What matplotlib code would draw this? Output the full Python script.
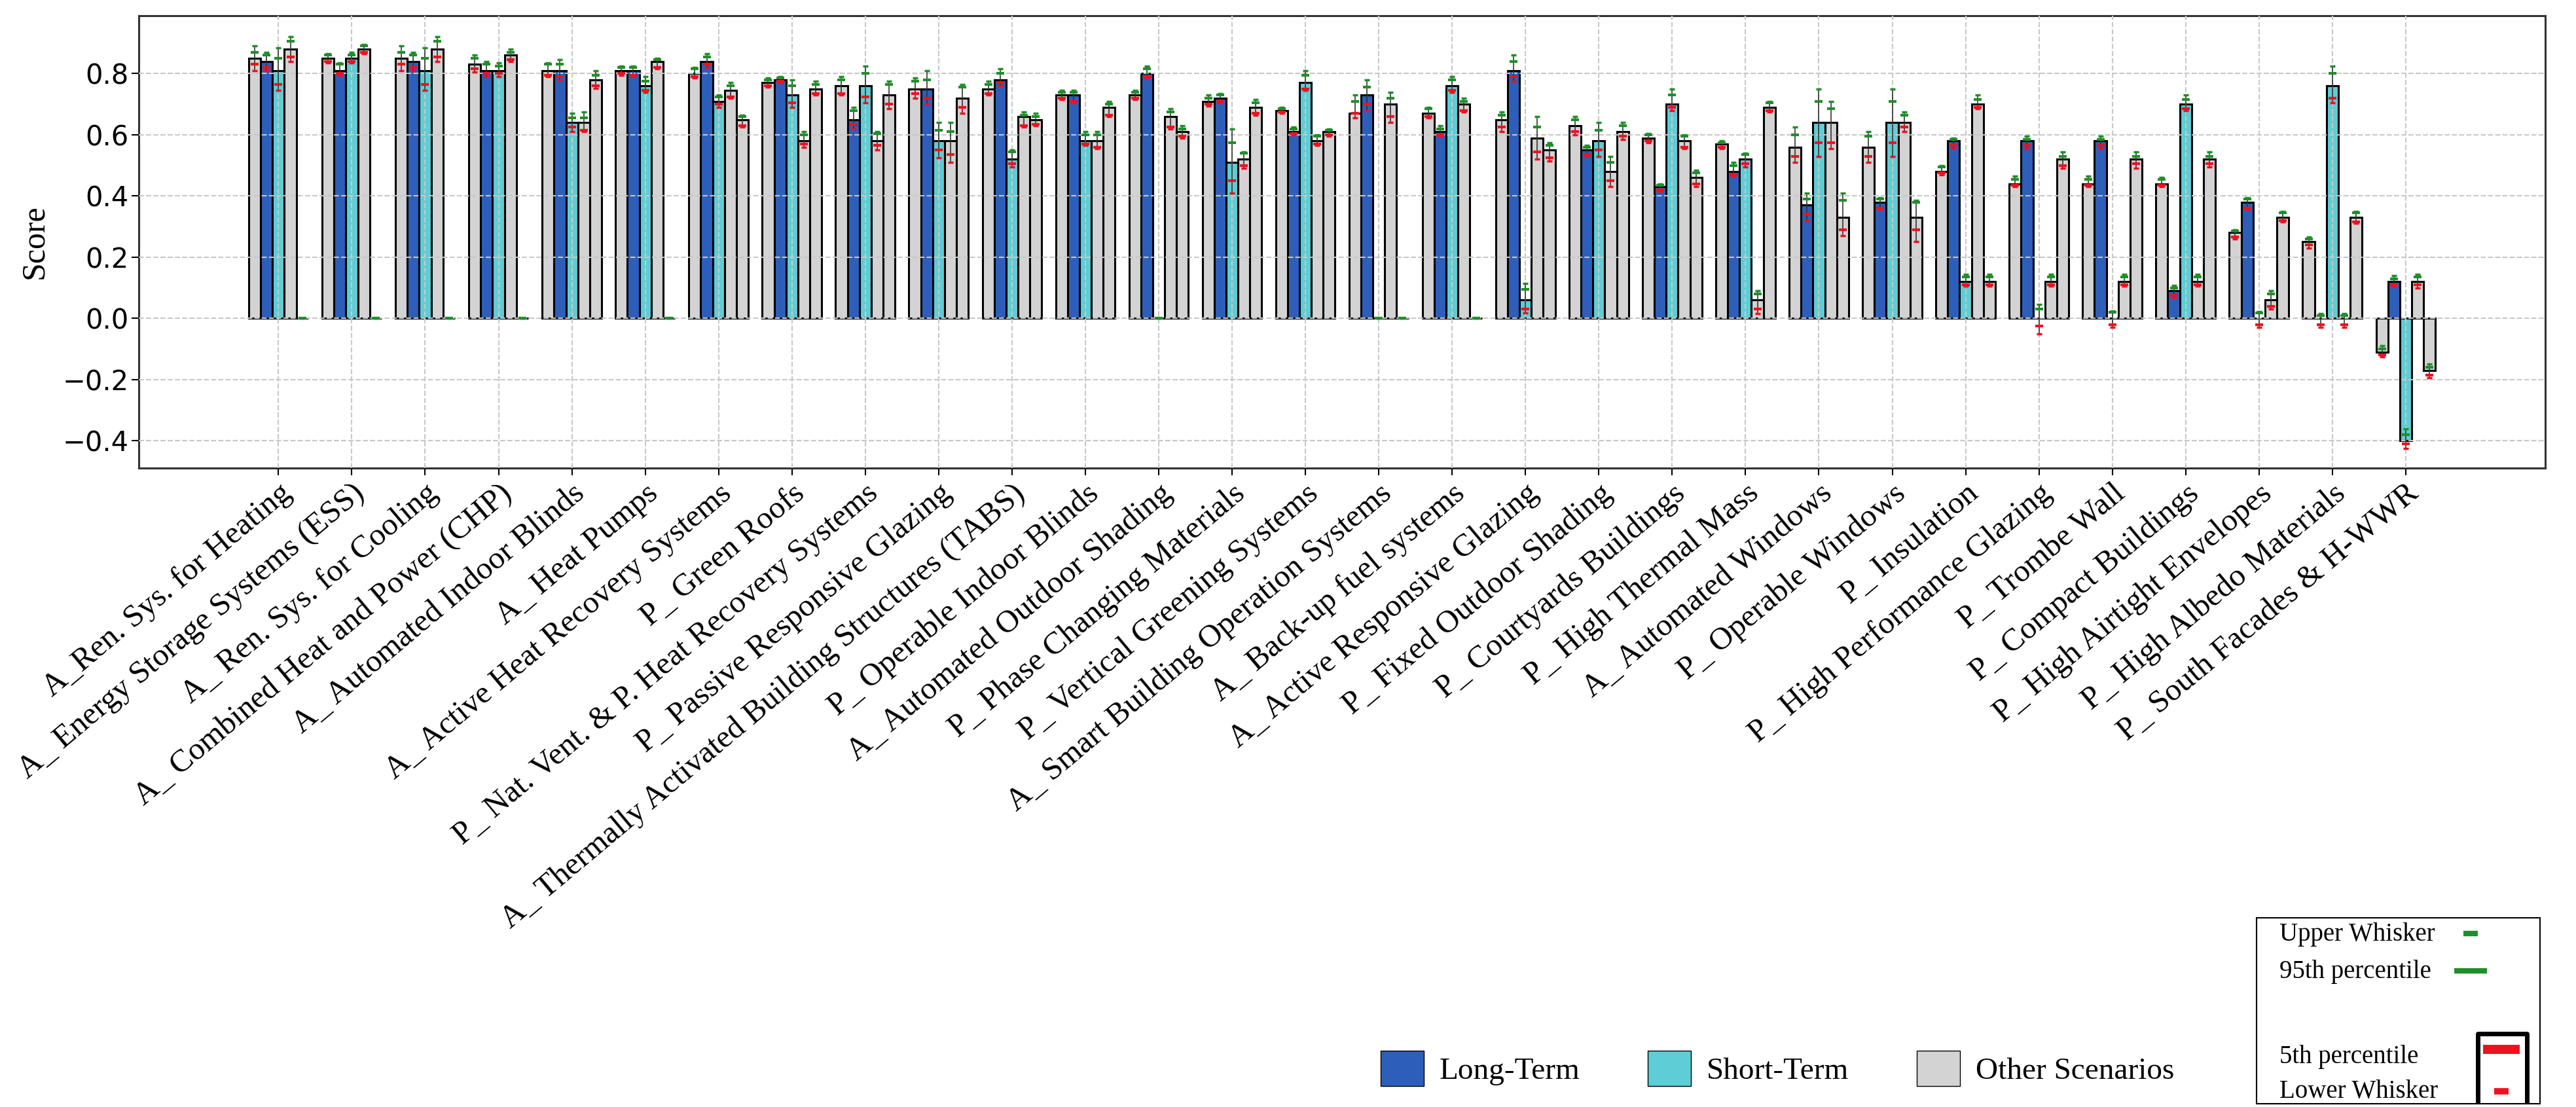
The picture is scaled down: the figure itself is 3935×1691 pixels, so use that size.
import numpy as np
import matplotlib.pyplot as plt
from matplotlib.patches import Patch, Rectangle
from matplotlib.lines import Line2D

labels = ["A_Ren. Sys. for Heating", "A_ Energy Storage Systems (ESS)", "A_ Ren. Sys. for Cooling",
          "A_ Combined Heat and Power (CHP)", "A_ Automated Indoor Blinds", "A_ Heat Pumps",
          "A_ Active Heat Recovery Systems", "P_ Green Roofs", "P_ Nat. Vent. & P. Heat Recovery Systems",
          "P_ Passive Responsive Glazing", "A_ Thermally Activated Building Structures (TABS)",
          "P_ Operable Indoor Blinds", "A_ Automated Outdoor Shading", "P_ Phase Changing Materials",
          "P_ Vertical Greening Systems", "A_ Smart Building Operation Systems", "A_ Back-up fuel systems",
          "A_ Active Responsive Glazing", "P_ Fixed Outdoor Shading", "P_ Courtyards Buildings",
          "P_ High Thermal Mass", "A_ Automated Windows", "P_ Operable Windows", "P_ Insulation",
          "P_ High Performance Glazing", "P_ Trombe Wall", "P_ Compact Buildings",
          "P_ High Airtight Envelopes", "P_ High Albedo Materials", "P_ South Facades & H-WWR"]

# other scenario 1 (grey, left of each group)
o1_val = [0.85, 0.85, 0.85, 0.83, 0.81, 0.81, 0.80, 0.77, 0.76, 0.75, 0.75, 0.73, 0.73, 0.71, 0.68,
          0.67, 0.67, 0.65, 0.63, 0.59, 0.57, 0.56, 0.56, 0.48, 0.44, 0.44, 0.44, 0.28, 0.25, -0.11]
o1_hi = [0.89, 0.865, 0.89, 0.86, 0.835, 0.825, 0.82, 0.785, 0.79, 0.785, 0.775, 0.745, 0.745, 0.73, 0.69,
         0.73, 0.69, 0.675, 0.66, 0.605, 0.58, 0.625, 0.61, 0.50, 0.465, 0.465, 0.46, 0.29, 0.265, -0.09]
o1_p95 = [0.87, 0.86, 0.87, 0.85, 0.83, 0.82, 0.815, 0.78, 0.78, 0.775, 0.765, 0.74, 0.74, 0.72, 0.685,
          0.71, 0.685, 0.665, 0.65, 0.60, 0.575, 0.60, 0.595, 0.495, 0.455, 0.455, 0.455, 0.285, 0.26, -0.10]
o1_p5 = [0.83, 0.84, 0.83, 0.815, 0.795, 0.80, 0.79, 0.76, 0.735, 0.735, 0.735, 0.72, 0.72, 0.70, 0.675,
         0.67, 0.66, 0.625, 0.61, 0.58, 0.56, 0.53, 0.53, 0.475, 0.435, 0.435, 0.435, 0.265, 0.24, -0.12]
o1_lo = [0.81, 0.835, 0.81, 0.805, 0.79, 0.795, 0.785, 0.755, 0.73, 0.72, 0.73, 0.715, 0.715, 0.695, 0.67,
         0.655, 0.655, 0.61, 0.60, 0.575, 0.555, 0.51, 0.51, 0.47, 0.43, 0.43, 0.43, 0.26, 0.23, -0.125]

# long-term
lt_val = [0.84, 0.81, 0.84, 0.81, 0.81, 0.81, 0.84, 0.78, 0.65, 0.75, 0.78, 0.73, 0.80, 0.72, 0.61,
          0.73, 0.61, 0.81, 0.55, 0.43, 0.48, 0.37, 0.38, 0.58, 0.58, 0.58, 0.09, 0.38, 0.0, 0.12]
lt_hi = [0.87, 0.835, 0.87, 0.84, 0.845, 0.825, 0.865, 0.79, 0.69, 0.81, 0.815, 0.745, 0.825, 0.735, 0.625,
         0.78, 0.63, 0.86, 0.565, 0.44, 0.51, 0.41, 0.395, 0.59, 0.595, 0.595, 0.107, 0.395, 0.015, 0.14]
lt_p95 = [0.86, 0.83, 0.86, 0.83, 0.83, 0.82, 0.855, 0.785, 0.68, 0.78, 0.80, 0.74, 0.815, 0.73, 0.62,
          0.755, 0.62, 0.84, 0.56, 0.435, 0.50, 0.39, 0.39, 0.585, 0.585, 0.585, 0.10, 0.39, 0.01, 0.13]
lt_p5 = [0.82, 0.80, 0.82, 0.80, 0.79, 0.795, 0.83, 0.775, 0.635, 0.72, 0.77, 0.71, 0.79, 0.71, 0.605,
         0.70, 0.60, 0.79, 0.535, 0.42, 0.47, 0.34, 0.36, 0.565, 0.565, 0.565, 0.075, 0.36, -0.02, 0.11]
lt_lo = [0.81, 0.795, 0.81, 0.79, 0.78, 0.79, 0.82, 0.77, 0.62, 0.70, 0.76, 0.705, 0.785, 0.705, 0.60,
         0.68, 0.595, 0.775, 0.53, 0.415, 0.465, 0.32, 0.355, 0.555, 0.555, 0.555, 0.068, 0.355, -0.03, 0.105]

# short-term
st_val = [0.81, 0.85, 0.81, 0.81, 0.64, 0.76, 0.71, 0.73, 0.76, 0.58, 0.52, 0.58, 0.0, 0.51, 0.77,
          0.0, 0.76, 0.06, 0.58, 0.70, 0.52, 0.64, 0.64, 0.12, 0.0, 0.0, 0.70, 0.0, 0.76, -0.40]
st_hi = [0.885, 0.87, 0.885, 0.835, 0.67, 0.79, 0.73, 0.78, 0.825, 0.64, 0.55, 0.61, 0.0, 0.62, 0.81,
         0.0, 0.79, 0.115, 0.64, 0.75, 0.54, 0.75, 0.75, 0.145, 0.045, 0.025, 0.73, 0.022, 0.825, -0.36]
st_p95 = [0.85, 0.86, 0.85, 0.825, 0.655, 0.775, 0.725, 0.76, 0.80, 0.615, 0.545, 0.60, 0.0, 0.575, 0.795,
          0.0, 0.78, 0.095, 0.615, 0.73, 0.535, 0.71, 0.71, 0.135, 0.03, 0.02, 0.715, 0.018, 0.80, -0.38]
st_p5 = [0.765, 0.84, 0.765, 0.80, 0.625, 0.745, 0.70, 0.705, 0.725, 0.55, 0.505, 0.57, 0.0, 0.45, 0.75,
         0.0, 0.745, 0.03, 0.55, 0.69, 0.505, 0.575, 0.575, 0.11, -0.025, -0.02, 0.685, -0.02, 0.72, -0.41]
st_lo = [0.745, 0.835, 0.745, 0.79, 0.61, 0.74, 0.69, 0.69, 0.705, 0.525, 0.495, 0.565, 0.0, 0.41, 0.745,
         0.0, 0.74, 0.018, 0.53, 0.68, 0.495, 0.53, 0.53, 0.105, -0.05, -0.03, 0.68, -0.03, 0.705, -0.425]

# other scenario 2
o2_val = [0.88, 0.88, 0.88, 0.86, 0.64, 0.84, 0.745, 0.58, 0.58, 0.58, 0.66, 0.58, 0.66, 0.52, 0.58,
          0.70, 0.70, 0.59, 0.48, 0.58, 0.06, 0.64, 0.64, 0.70, 0.12, 0.12, 0.12, 0.06, 0.0, 0.12]
o2_hi = [0.92, 0.895, 0.92, 0.88, 0.675, 0.85, 0.77, 0.61, 0.61, 0.64, 0.675, 0.61, 0.685, 0.545, 0.60,
         0.74, 0.72, 0.66, 0.53, 0.60, 0.09, 0.71, 0.675, 0.73, 0.145, 0.145, 0.145, 0.09, 0.015, 0.145]
o2_p95 = [0.905, 0.89, 0.905, 0.87, 0.655, 0.845, 0.76, 0.60, 0.605, 0.61, 0.665, 0.60, 0.675, 0.54, 0.595,
          0.72, 0.71, 0.625, 0.51, 0.595, 0.08, 0.685, 0.665, 0.715, 0.135, 0.135, 0.135, 0.08, 0.01, 0.135]
o2_p5 = [0.855, 0.87, 0.855, 0.845, 0.615, 0.82, 0.725, 0.57, 0.565, 0.535, 0.63, 0.56, 0.625, 0.50, 0.57,
         0.66, 0.68, 0.545, 0.45, 0.56, 0.03, 0.575, 0.625, 0.69, 0.11, 0.11, 0.11, 0.04, -0.02, 0.11]
o2_lo = [0.84, 0.865, 0.84, 0.84, 0.61, 0.815, 0.72, 0.56, 0.55, 0.51, 0.625, 0.555, 0.62, 0.49, 0.565,
         0.64, 0.675, 0.52, 0.43, 0.555, 0.015, 0.555, 0.61, 0.685, 0.105, 0.105, 0.105, 0.03, -0.03, 0.10]

# other scenario 3
o3_val = [0.0, 0.0, 0.0, 0.0, 0.78, 0.0, 0.65, 0.75, 0.73, 0.72, 0.65, 0.69, 0.61, 0.69, 0.61,
          0.0, 0.0, 0.55, 0.61, 0.46, 0.69, 0.33, 0.33, 0.12, 0.52, 0.52, 0.52, 0.33, 0.33, -0.17]
o3_hi = [0.0, 0.0, 0.0, 0.0, 0.81, 0.0, 0.665, 0.775, 0.775, 0.765, 0.67, 0.71, 0.63, 0.715, 0.62,
         0.0, 0.0, 0.575, 0.64, 0.485, 0.71, 0.41, 0.385, 0.145, 0.545, 0.545, 0.545, 0.35, 0.35, -0.15]
o3_p95 = [0.0, 0.0, 0.0, 0.0, 0.795, 0.0, 0.66, 0.765, 0.765, 0.755, 0.66, 0.70, 0.62, 0.705, 0.615,
          0.0, 0.0, 0.565, 0.63, 0.475, 0.705, 0.385, 0.38, 0.135, 0.53, 0.53, 0.53, 0.345, 0.345, -0.16]
o3_p5 = [0.0, 0.0, 0.0, 0.0, 0.76, 0.0, 0.63, 0.735, 0.70, 0.69, 0.635, 0.665, 0.595, 0.67, 0.60,
         0.0, 0.0, 0.525, 0.595, 0.44, 0.68, 0.29, 0.29, 0.11, 0.50, 0.505, 0.505, 0.32, 0.315, -0.185]
o3_lo = [0.0, 0.0, 0.0, 0.0, 0.752, 0.0, 0.625, 0.73, 0.685, 0.67, 0.63, 0.66, 0.59, 0.665, 0.595,
         0.0, 0.0, 0.515, 0.585, 0.43, 0.675, 0.27, 0.25, 0.105, 0.49, 0.49, 0.495, 0.315, 0.31, -0.195]

blue = '#2d5fba'
cyan = '#5ecdd5'
grey = '#d3d3d3'
green = '#1f8f2a'
red = '#f01020'

series = [
    (o1_val, o1_hi, o1_p95, o1_p5, o1_lo, grey),
    (lt_val, lt_hi, lt_p95, lt_p5, lt_lo, blue),
    (st_val, st_hi, st_p95, st_p5, st_lo, cyan),
    (o2_val, o2_hi, o2_p95, o2_p5, o2_lo, grey),
    (o3_val, o3_hi, o3_p95, o3_p5, o3_lo, grey),
]

serif = 'Liberation Serif'

fig = plt.figure(figsize=(39.35, 16.91), dpi=100)
ax = fig.add_axes([0.054, 0.577, 0.934, 0.409])

x = np.arange(len(labels))
w = 0.162
for k, (val, hi, p95, p5, lo, col) in enumerate(series):
    pos = x + (k - 2) * w
    ax.bar(pos, val, w, color=col, edgecolor='black', linewidth=2.2, zorder=1)
    ax.vlines(pos, lo, hi, colors='#333333', linewidth=1.2, zorder=3)
    # red first so that green stays on top when everything sits at zero
    ax.plot(pos, lo, ls='none', marker='_', color=red, ms=6, mew=2.5, zorder=4)
    ax.plot(pos, p5, ls='none', marker='_', color=red, ms=9, mew=3, zorder=4)
    ax.plot(pos, hi, ls='none', marker='_', color=green, ms=6, mew=2.5, zorder=4)
    ax.plot(pos, p95, ls='none', marker='_', color=green, ms=9, mew=3, zorder=4)

ax.set_xlim(-1.9, 30.9)
ax.set_ylim(-0.49, 0.99)
ax.set_yticks([-0.4, -0.2, 0.0, 0.2, 0.4, 0.6, 0.8])
ax.tick_params(axis='y', labelsize=30, length=8, width=1.5)
ax.tick_params(axis='x', length=8, width=1.5)
ax.set_xticks(x)
ax.set_xticklabels(labels, rotation=40, ha='right', rotation_mode='anchor',
                   fontsize=35, family=serif)
ax.set_ylabel('Score', fontsize=36, family=serif, labelpad=14)
ax.grid(True, ls='--', color='#c8c8c8', lw=1.5)
ax.set_axisbelow(False)
for s in ax.spines.values():
    s.set_color('#333333')
    s.set_linewidth(2.2)

scen = [Patch(facecolor=blue, edgecolor='black', label='Long-Term'),
        Patch(facecolor=cyan, edgecolor='black', label='Short-Term'),
        Patch(facecolor=grey, edgecolor='black', label='Other Scenarios')]
fig.legend(handles=scen, loc='center', bbox_to_anchor=(0.69, 0.035), ncol=3, frameon=False,
           prop={'family': serif, 'size': 34}, handlelength=1.4, handleheight=1.4,
           handletextpad=0.5, columnspacing=2.2)

# percentile key box, bottom right
fig.add_artist(Rectangle((0.876, 0.003), 0.110, 0.168, transform=fig.transFigure,
                         facecolor='white', edgecolor='black', lw=1.5))
key_text = ['Upper Whisker', '95th percentile', '5th percentile', 'Lower Whisker']
key_y = [0.156, 0.122, 0.045, 0.014]
for t, yy in zip(key_text, key_y):
    fig.text(0.885, yy, t, family=serif, fontsize=28, va='center', ha='left')
fig.add_artist(Line2D([0.959], [0.157], transform=fig.transFigure, ls='none', marker='_',
                      color=green, ms=16, mew=6))
fig.add_artist(Line2D([0.959], [0.123], transform=fig.transFigure, ls='none', marker='_',
                      color=green, ms=36, mew=6))
fig.add_artist(Line2D([0.971], [0.052], transform=fig.transFigure, ls='none', marker='_',
                      color=red, ms=40, mew=10))
fig.add_artist(Line2D([0.971], [0.014], transform=fig.transFigure, ls='none', marker='_',
                      color=red, ms=16, mew=7))
fig.add_artist(Line2D([0.962, 0.962, 0.981, 0.981], [0.006, 0.066, 0.066, 0.006],
                      transform=fig.transFigure, color='black', lw=5))

fig.savefig('out.png', dpi=100)
